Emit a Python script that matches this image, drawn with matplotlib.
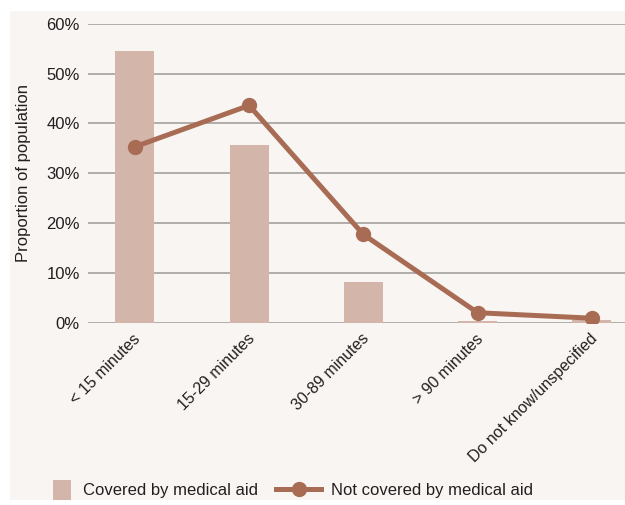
import matplotlib.pyplot as plt
from matplotlib.patches import Rectangle, Patch
from matplotlib.lines import Line2D
from matplotlib.ticker import PercentFormatter
from matplotlib.transforms import ScaledTranslation

plt.rcParams['font.family'] = ['Liberation Sans', 'DejaVu Sans']

categories = ['< 15 minutes', '15-29 minutes', '30-89 minutes', '> 90 minutes',
              'Do not know/unspecified']
covered = [54.5, 35.6, 8.2, 0.4, 0.6]
not_covered = [35.3, 43.6, 17.7, 2.0, 0.9]

bar_color = '#d3b5aa'
line_color = '#a86c55'
text_color = '#231f20'
panel_color = '#f8f5f2'
fs = 12

fig = plt.figure(figsize=(6.25, 5.05), dpi=100)
fig.patch.set_facecolor('white')
# light panel behind everything
fig.add_artist(Rectangle((10 / 625, 5 / 505), 615 / 625, 489 / 505,
                         transform=fig.transFigure, facecolor=panel_color,
                         edgecolor='none', zorder=-10))

ax = fig.add_axes([88 / 625, 1 - 322.7 / 505, 537 / 625, 299 / 505])
ax.set_facecolor('none')

x = list(range(len(categories)))
ax.bar(x, covered, width=0.34, color=bar_color, zorder=2)
ax.plot(x, not_covered, color=line_color, lw=3.6, marker='o', markersize=10,
        zorder=3, solid_capstyle='round')

ax.set_xlim(-0.41, 4.29)
ax.set_ylim(0, 60)
ax.set_yticks(range(0, 61, 10))
ax.yaxis.set_major_formatter(PercentFormatter(decimals=0))
ax.grid(axis='y', color='#aaa7a4', lw=1.3, zorder=0)
for s in ax.spines.values():
    s.set_visible(False)
ax.tick_params(length=0, labelsize=fs, colors=text_color, pad=6)
ax.set_xticks(x)
ax.set_xticklabels(categories, rotation=45, ha='right', rotation_mode='anchor',
                   fontsize=11.5)
shift = ScaledTranslation(-2 / 100, 0, fig.dpi_scale_trans)
for lbl in ax.get_xticklabels():
    lbl.set_transform(lbl.get_transform() + shift)
ax.set_ylabel('Proportion of population', fontsize=fs, color=text_color, labelpad=11)

fig.legend(handles=[Patch(facecolor=bar_color, label='Covered by medical aid')],
           loc='center left', bbox_to_anchor=(38 / 625, 1 - 490 / 505),
           frameon=False, handlelength=1.1, handleheight=1.5, handletextpad=0.7,
           fontsize=fs, labelcolor=text_color)
fig.legend(handles=[Line2D([], [], color=line_color, lw=3.6, marker='o', markersize=10,
                           label='Not covered by medical aid')],
           loc='center left', bbox_to_anchor=(261 / 625, 1 - 490 / 505),
           frameon=False, handlelength=2.7, handletextpad=0.6,
           fontsize=fs, labelcolor=text_color)

fig.savefig('out.png', dpi=100)
